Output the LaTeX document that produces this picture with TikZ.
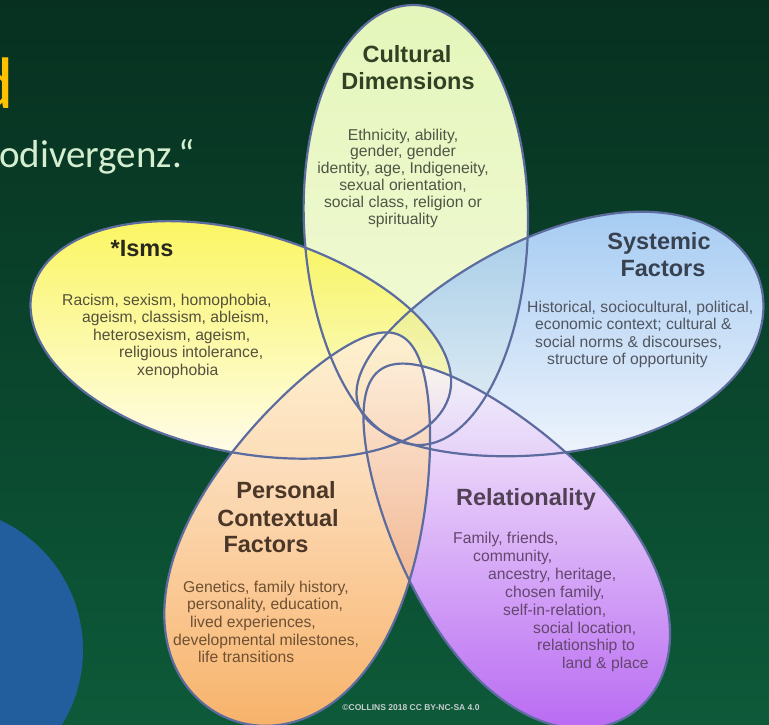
\documentclass[tikz,border=0pt]{standalone}
\usepackage{fontspec}
\setmainfont{Liberation Sans}
\newfontfamily\carlitofont{Carlito}
\definecolor{bgtop}{RGB}{7,48,32}
\definecolor{bgbot}{RGB}{13,90,57}
\definecolor{circ}{RGB}{34,94,158}
\definecolor{gold}{RGB}{255,192,0}
\definecolor{mint}{RGB}{214,238,208}
\definecolor{outl}{RGB}{92,108,158}
\definecolor{culA}{RGB}{222,244,170}\definecolor{culB}{RGB}{242,250,210}
\definecolor{ismA}{RGB}{250,244,60}\definecolor{ismB}{RGB}{255,252,232}
\definecolor{sysA}{RGB}{145,192,240}\definecolor{sysB}{RGB}{234,241,252}
\definecolor{perA}{RGB}{255,240,222}\definecolor{perB}{RGB}{246,160,70}
\definecolor{relA}{RGB}{250,246,252}\definecolor{relB}{RGB}{168,70,240}
\definecolor{culT}{RGB}{50,65,35}\definecolor{culX}{RGB}{80,85,70}
\definecolor{ismT}{RGB}{40,40,30}\definecolor{ismX}{RGB}{85,80,60}
\definecolor{sysT}{RGB}{55,65,80}\definecolor{sysX}{RGB}{80,85,95}
\definecolor{perT}{RGB}{75,55,40}\definecolor{perX}{RGB}{110,80,50}
\definecolor{relT}{RGB}{80,65,85}\definecolor{relX}{RGB}{100,70,110}
\definecolor{credit}{RGB}{200,205,210}
% egg-shaped petal: cx, cy, angle to far end, a, b, egg factor
\newcommand\petalpath[6]{plot[domain=0:358,samples=180,variable=\t] ({#1+(#4)*cos(\t)*cos(#3)-(#5)*sin(\t)*(1+(#6)*cos(\t))*sin(#3)},{#2+(#4)*cos(\t)*sin(#3)+(#5)*sin(\t)*(1+(#6)*cos(\t))*cos(#3)}) -- cycle}
\newcommand\pcul{\petalpath{416}{225}{-91}{220}{112}{0.05}}
\newcommand\pism{\petalpath{241}{342}{194}{215}{110}{0.05}}
\newcommand\psys{\petalpath{559}{343}{-17}{210}{110}{0.2}}
\newcommand\prel{\petalpath{507}{541}{53.3}{213}{106}{0.25}}
\newcommand\pper{\petalpath{312}{526}{114.6}{210}{110}{0.3}}
\begin{document}
\begin{tikzpicture}[x=1pt,y=-1pt,
  ttl/.style={font=\fontsize{23.5}{25}\selectfont\bfseries, inner sep=0pt, anchor=base},
  bodyl/.style={font=\fontsize{15.7}{17}\selectfont, inner sep=0pt, anchor=base west},
  bodyc/.style={font=\fontsize{15.7}{17}\selectfont, inner sep=0pt, anchor=base},
  petalfill/.style={fill opacity=0.8},
  petaledge/.style={draw=outl, line width=2.2pt}]
\useasboundingbox (0,0) rectangle (769,725);
\shade[top color=bgtop, bottom color=bgbot] (0,0) rectangle (769,725);
\fill[circ] (-60,650) circle[radius=143];
\node[font=\carlitofont\fontsize{73}{80}\selectfont, text=gold, inner sep=0pt, anchor=base east] (headd) at (14,108) {d};
\node[font=\carlitofont\fontsize{39}{44}\selectfont, text=mint, inner sep=0pt, anchor=base west] (headline) at (-1,167) {odivergenz.“};
% white base
\fill[white] \pcul; \fill[white] \pism; \fill[white] \psys; \fill[white] \prel; \fill[white] \pper;
% coloured fills
\path[petalfill, top color=culA, bottom color=culB] \pcul;
\path[petalfill, top color=sysA, bottom color=sysB] \psys;
\path[petalfill, top color=ismA, bottom color=ismB] \pism;
\path[petalfill, top color=relA, bottom color=relB] \prel;
\path[petalfill, top color=perA, bottom color=perB] \pper;
% outlines
\path[petaledge] \pcul; \path[petaledge] \pism; \path[petaledge] \psys; \path[petaledge] \prel; \path[petaledge] \pper;
% Cultural Dimensions
\node[ttl, text=culT] (cul-t1) at (407,63) {Cultural};
\node[ttl, text=culT] (cul-t2) at (408,89) {Dimensions};
\node[bodyc, text=culX] (cul-1) at (403,140) {Ethnicity, ability,};
\node[bodyc, text=culX] (cul-2) at (403,157) {gender, gender};
\node[bodyc, text=culX] (cul-3) at (403,173) {identity, age, Indigeneity,};
\node[bodyc, text=culX] (cul-4) at (403,190) {sexual orientation,};
\node[bodyc, text=culX] (cul-5) at (403,207) {social class, religion or};
\node[bodyc, text=culX] (cul-6) at (403,224) {spirituality};
% Isms
\node[ttl, text=ismT] (ism-t) at (142,256) {*Isms};
\node[bodyl, text=ismX] (ism-1) at (62,305) {Racism, sexism, homophobia,};
\node[bodyl, text=ismX] (ism-2) at (82,322) {ageism, classism, ableism,};
\node[bodyl, text=ismX] (ism-3) at (93,340) {heterosexism, ageism,};
\node[bodyl, text=ismX] (ism-4) at (119,357) {religious intolerance,};
\node[bodyl, text=ismX] (ism-5) at (137,375) {xenophobia};
% Systemic Factors
\node[ttl, text=sysT] (sys-t1) at (659,249) {Systemic};
\node[ttl, text=sysT] (sys-t2) at (663,276) {Factors};
\node[bodyl, text=sysX] (sys-1) at (527,312) {Historical, sociocultural, political,};
\node[bodyl, text=sysX] (sys-2) at (535,329) {economic context; cultural \&};
\node[bodyl, text=sysX] (sys-3) at (535,347) {social norms \& discourses,};
\node[bodyl, text=sysX] (sys-4) at (547,364) {structure of opportunity};
% Personal Contextual Factors
\node[ttl, text=perT] (per-t1) at (286,498) {Personal};
\node[ttl, text=perT] (per-t2) at (278,526) {Contextual};
\node[ttl, text=perT] (per-t3) at (266,552) {Factors};
\node[bodyl, text=perX] (per-1) at (183,592) {Genetics, family history,};
\node[bodyl, text=perX] (per-2) at (187,609) {personality, education,};
\node[bodyl, text=perX] (per-3) at (190,627) {lived experiences,};
\node[bodyl, text=perX] (per-4) at (173,645) {developmental milestones,};
\node[bodyl, text=perX] (per-5) at (198,662) {life transitions};
% Relationality
\node[ttl, text=relT] (rel-t) at (526,505) {Relationality};
\node[bodyl, text=relX] (rel-1) at (453,543) {Family, friends,};
\node[bodyl, text=relX] (rel-2) at (473,561) {community,};
\node[bodyl, text=relX] (rel-3) at (488,579) {ancestry, heritage,};
\node[bodyl, text=relX] (rel-4) at (505,597) {chosen family,};
\node[bodyl, text=relX] (rel-5) at (503,615) {self-in-relation,};
\node[bodyl, text=relX] (rel-6) at (533,633) {social location,};
\node[bodyl, text=relX] (rel-7) at (537,650) {relationship to};
\node[bodyl, text=relX] (rel-8) at (562,668) {land \& place};
% credit
\node[font=\fontsize{8.5}{9}\selectfont\bfseries, text=credit, inner sep=0pt, anchor=base] (credit) at (411,710) {©COLLINS 2018 CC BY-NC-SA 4.0};
\end{tikzpicture}
\end{document}
